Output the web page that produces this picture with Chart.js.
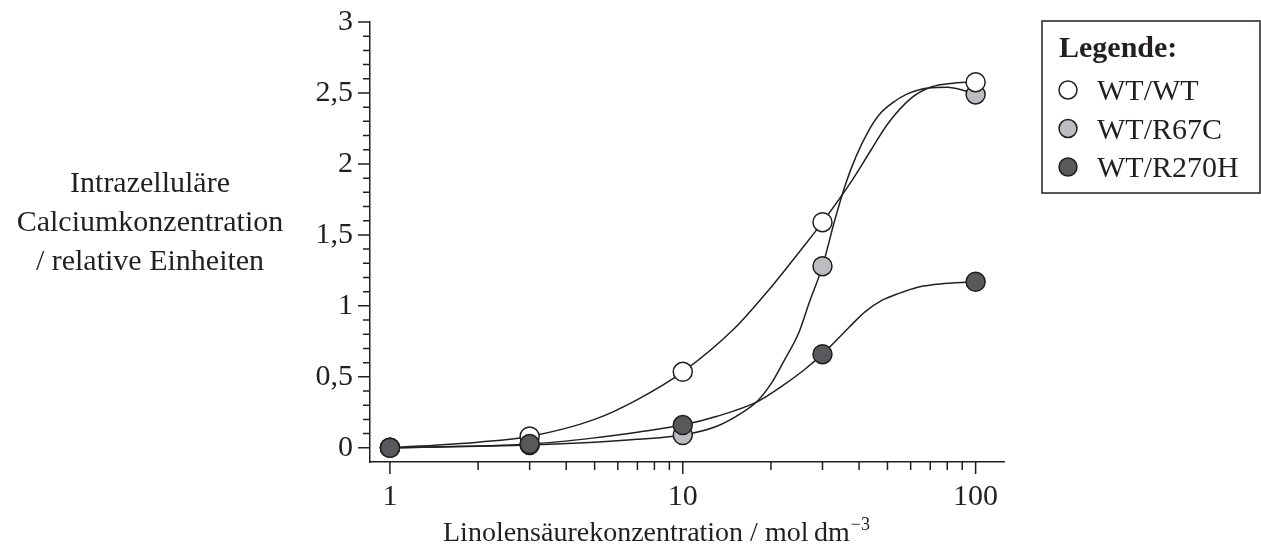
<!DOCTYPE html>
<html>
<head>
<meta charset="utf-8">
<script src="https://cdn.jsdelivr.net/npm/chart.js@4.4.1/dist/chart.umd.min.js"></script>
<style>
  html, body { margin: 0; padding: 0; background: #fff; }
  #wrap { position: relative; width: 1261px; height: 547px; }
</style>
</head>
<body>
<div id="wrap"><canvas id="calciumChart"></canvas></div>
<script>
// Messwerte (Linolensäure in mol dm^-3)
const concentrations = [1, 3, 10, 30, 100];
const wtWt = [0, 0.08, 0.535, 1.59, 2.576];
const wtR67c = [0, 0.02, 0.09, 1.28, 2.49];
const wtR270h = [0, 0.026, 0.16, 0.66, 1.17];

// Ausgleichskurven
const wtWtCurveX = [1, 2, 3, 5, 7, 10, 15, 20, 25, 30, 38, 44, 50, 60, 70, 85, 100];
const wtWtCurveY = [0, 0.04, 0.08, 0.2, 0.34, 0.535, 0.84, 1.13, 1.38, 1.59, 1.89, 2.1, 2.28, 2.46, 2.54, 2.57, 2.576];
const wtR67cCurveX = [1, 3, 5, 7, 10, 13, 16, 18, 20, 22, 25, 27, 30, 33, 36, 39, 43, 47, 52, 58, 69, 80, 92, 100];
const wtR67cCurveY = [0, 0.02, 0.04, 0.06, 0.09, 0.15, 0.25, 0.33, 0.45, 0.6, 0.82, 1.02, 1.28, 1.6, 1.86, 2.05, 2.23, 2.35, 2.43, 2.49, 2.535, 2.54, 2.515, 2.49];
const wtR270hCurveX = [1, 3, 5, 7, 10, 13, 18, 22, 26, 30, 37, 42, 48, 55, 63, 72, 81, 100];
const wtR270hCurveY = [0, 0.026, 0.07, 0.11, 0.16, 0.22, 0.325, 0.44, 0.55, 0.66, 0.85, 0.96, 1.04, 1.09, 1.13, 1.15, 1.16, 1.17];

// Achsenteilung
const xMajorTicks = [1, 10, 100];
const xMinorTicks = [2, 3, 4, 5, 6, 7, 8, 9, 20, 30, 40, 50, 60, 70, 80, 90];
const yMajorTicks = [0, 0.5, 1, 1.5, 2, 2.5, 3];
const yMinorTicks = [0.1, 0.2, 0.3, 0.4, 0.6, 0.7, 0.8, 0.9, 1.1, 1.2, 1.3, 1.4, 1.6, 1.7, 1.8, 1.9, 2.1, 2.2, 2.3, 2.4, 2.6, 2.7, 2.8, 2.9];

const seriesLabels = ['WT/WT', 'WT/R67C', 'WT/R270H'];
const seriesColors = ['#ffffff', '#bcbdc0', '#58595b'];

const ink = '#231f20';
const serif = "'Liberation Serif', 'Times New Roman', serif";

function pts(xs, ys) {
  return xs.map((x, i) => ({ x: x, y: ys[i] }));
}

function curve(xs, ys) {
  return {
    type: 'line',
    data: pts(xs, ys),
    borderColor: ink,
    borderWidth: 1.5,
    pointRadius: 0,
    cubicInterpolationMode: 'monotone',
    fill: false,
    order: 10,
    clip: false,
  };
}

function markers(label, ys, color, order) {
  return {
    type: 'line',
    label: label,
    data: pts(concentrations, ys),
    showLine: false,
    pointRadius: 9.5,
    pointBackgroundColor: color,
    pointBorderColor: ink,
    pointBorderWidth: 1.5,
    order: order,
    clip: false,
  };
}

// Teilstriche, Achsentitel und Legende
const decorations = {
  id: 'decorations',
  afterDraw(chart) {
    const ctx = chart.ctx;
    const xs = chart.scales.x;
    const ys = chart.scales.y;
    ctx.save();
    ctx.strokeStyle = ink;
    ctx.lineWidth = 1.5;
    ctx.beginPath();
    xMajorTicks.forEach(v => {
      const p = xs.getPixelForValue(v);
      ctx.moveTo(p, xs.top); ctx.lineTo(p, xs.top + 12);
    });
    xMinorTicks.forEach(v => {
      const p = xs.getPixelForValue(v);
      ctx.moveTo(p, xs.top); ctx.lineTo(p, xs.top + 8);
    });
    yMajorTicks.forEach(v => {
      const p = ys.getPixelForValue(v);
      ctx.moveTo(ys.right, p); ctx.lineTo(ys.right - 12, p);
    });
    yMinorTicks.forEach(v => {
      const p = ys.getPixelForValue(v);
      ctx.moveTo(ys.right, p); ctx.lineTo(ys.right - 7, p);
    });
    ctx.stroke();

    ctx.fillStyle = ink;
    ctx.textBaseline = 'alphabetic';

    // y-Titel
    ctx.font = '30px ' + serif;
    ctx.textAlign = 'center';
    ctx.fillText('Intrazelluläre', 150, 192);
    ctx.fillText('Calciumkonzentration', 150, 231);
    ctx.fillText('/ relative Einheiten', 150, 270);

    // x-Titel
    ctx.textAlign = 'left';
    ctx.font = '28px ' + serif;
    const main = 'Linolensäurekonzentration / mol\u2009dm';
    ctx.fillText(main, 443, 541);
    const w = ctx.measureText(main).width;
    ctx.font = '18px ' + serif;
    ctx.fillText('\u22123', 443 + w + 1, 530);

    // Legende
    ctx.lineWidth = 1.5;
    ctx.strokeRect(1042, 21, 218, 172);
    ctx.font = 'bold 30px ' + serif;
    ctx.fillText('Legende:', 1059, 57);
    ctx.font = '30px ' + serif;
    const rows = [90, 128.5, 167];
    seriesLabels.forEach((lab, i) => {
      ctx.beginPath();
      ctx.arc(1068, rows[i], 9, 0, Math.PI * 2);
      ctx.fillStyle = seriesColors[i];
      ctx.fill();
      ctx.stroke();
      ctx.fillStyle = ink;
      ctx.fillText(lab, 1097, rows[i] + 10);
    });
    ctx.restore();
  }
};

// unsichtbare Striche, sie halten nur den Abstand der Beschriftung
const hiddenGrid = { display: true, color: 'rgba(0,0,0,0)', drawOnChartArea: false, drawTicks: true, tickLength: 17 };

new Chart(document.getElementById('calciumChart'), {
  data: {
    datasets: [
      curve(wtWtCurveX, wtWtCurveY),
      curve(wtR67cCurveX, wtR67cCurveY),
      curve(wtR270hCurveX, wtR270hCurveY),
      markers(seriesLabels[1], wtR67c, seriesColors[1], 5),
      markers(seriesLabels[0], wtWt, seriesColors[0], 4),
      markers(seriesLabels[2], wtR270h, seriesColors[2], 3),
    ],
  },
  options: {
    responsive: true,
    maintainAspectRatio: false,
    animation: false,
    layout: { padding: { left: 0, top: 22, right: 257, bottom: 0 } },
    plugins: {
      legend: { display: false },
      tooltip: { enabled: false },
    },
    scales: {
      x: {
        type: 'logarithmic',
        position: 'bottom',
        min: 0.855,
        max: 125,
        grid: hiddenGrid,
        border: { display: true, color: ink, width: 1.5 },
        ticks: {
          color: ink,
          font: { family: serif, size: 30 },
          padding: 0,
          autoSkip: false,
          maxRotation: 0,
          callback: v => String(v),
        },
        afterBuildTicks: s => { s.ticks = xMajorTicks.map(v => ({ value: v })); },
        afterFit: s => { s.height = 85; },
      },
      y: {
        type: 'linear',
        min: -0.1,
        max: 3,
        grid: hiddenGrid,
        border: { display: true, color: ink, width: 1.5 },
        ticks: {
          color: ink,
          font: { family: serif, size: 30 },
          padding: 0,
          autoSkip: false,
          callback: v => String(v).replace('.', ','),
        },
        afterBuildTicks: s => { s.ticks = yMajorTicks.map(v => ({ value: v })); },
        afterFit: s => { s.width = 370; },
      },
    },
  },
  plugins: [decorations],
});
</script>
</body>
</html>
